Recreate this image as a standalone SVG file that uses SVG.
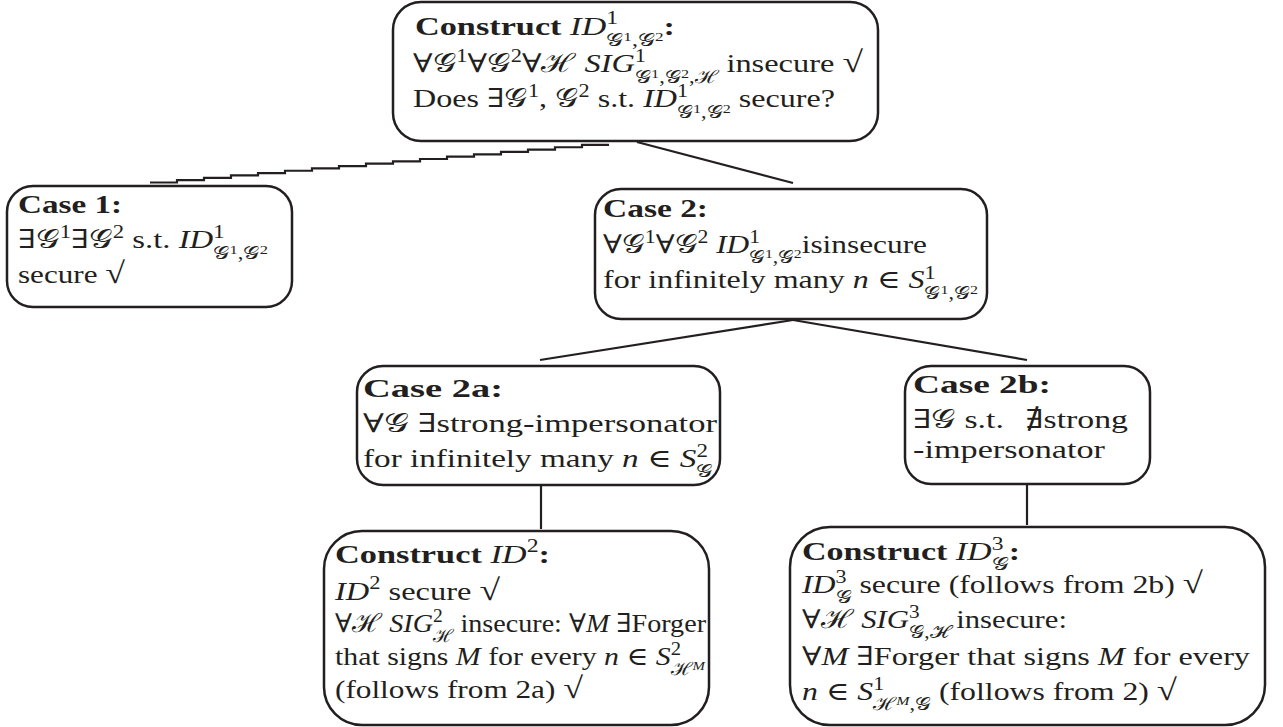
<svg xmlns="http://www.w3.org/2000/svg" width="1283" height="727" viewBox="0 0 1283 727">
<style>
.t{font-family:"Liberation Serif","DejaVu Serif",serif;font-size:26px;fill:#231f20}
.b{font-weight:bold}
.i{font-style:italic}
.s{font-size:18px}
.ss{font-size:13px}
.r{font-size:30px}
.box{fill:#fff;stroke:#231f20;stroke-width:2.5}
.ln{fill:none;stroke:#231f20;stroke-width:2.2}
</style>
<rect width="1283" height="727" fill="#fff"/>
<g id="connectors">
<path class="ln" d="M150 182.5 h27 v-2.35 h27 v-2.35 h27 v-2.35 h27 v-2.35 h27 v-2.35 h27 v-2.35 h27 v-2.35 h27 v-2.35 h27 v-2.35 h27 v-2.35 h27 v-2.35 h27 v-2.35 h27 v-2.35 h27 v-2.35 h27 v-2.35 h27 v-2.35 h27"/>
<line class="ln" x1="637" y1="142" x2="793" y2="183"/>
<line class="ln" x1="793" y1="320" x2="540" y2="360"/>
<line class="ln" x1="793" y1="320" x2="1027" y2="360"/>
<line class="ln" x1="541" y1="485" x2="541" y2="529"/>
<line class="ln" x1="1027" y1="484" x2="1027" y2="525"/>
</g>
<g id="n0">
<rect class="box" x="393" y="2" width="485" height="139" rx="28"/>
<text class="t" x="415" y="35" textLength="260" lengthAdjust="spacingAndGlyphs"><tspan class="b">Construct </tspan><tspan class="i">ID</tspan><tspan class="s" dy="-11">1</tspan><tspan class="s" dx="-9" dy="22">𝒢</tspan><tspan class="ss" dy="-5">1</tspan><tspan class="s" dy="5">,𝒢</tspan><tspan class="ss" dy="-5">2</tspan><tspan class="b" dy="-6">:</tspan></text>
<text class="t" x="413" y="72" textLength="450" lengthAdjust="spacingAndGlyphs">∀𝒢<tspan class="s" dy="-10">1</tspan><tspan dy="10">∀𝒢</tspan><tspan class="s" dy="-10">2</tspan><tspan dy="10">∀ℋ </tspan><tspan class="i">SIG</tspan><tspan class="s" dy="-10">1</tspan><tspan class="s" dx="-9" dy="21">𝒢</tspan><tspan class="ss" dy="-5">1</tspan><tspan class="s" dy="5">,𝒢</tspan><tspan class="ss" dy="-5">2</tspan><tspan class="s" dy="5">,ℋ</tspan><tspan dy="-11"> insecure </tspan><tspan class="r">√</tspan></text>
<text class="t" x="413" y="107" textLength="422" lengthAdjust="spacingAndGlyphs">Does ∃𝒢<tspan class="s" dy="-10">1</tspan><tspan dy="10">, 𝒢</tspan><tspan class="s" dy="-10">2</tspan><tspan dy="10"> s.t. </tspan><tspan class="i">ID</tspan><tspan class="s" dy="-10">1</tspan><tspan class="s" dx="-9" dy="21">𝒢</tspan><tspan class="ss" dy="-5">1</tspan><tspan class="s" dy="5">,𝒢</tspan><tspan class="ss" dy="-5">2</tspan><tspan dy="-6"> secure?</tspan></text>
</g>
<g id="n1">
<rect class="box" x="7" y="186" width="285" height="121" rx="26"/>
<text class="t b" x="18" y="213" textLength="104" lengthAdjust="spacingAndGlyphs">Case 1:</text>
<text class="t" x="18" y="248" textLength="250" lengthAdjust="spacingAndGlyphs">∃𝒢<tspan class="s" dy="-10">1</tspan><tspan dy="10">∃𝒢</tspan><tspan class="s" dy="-10">2</tspan><tspan dy="10"> s.t. </tspan><tspan class="i">ID</tspan><tspan class="s" dy="-10">1</tspan><tspan class="s" dx="-9" dy="21">𝒢</tspan><tspan class="ss" dy="-5">1</tspan><tspan class="s" dy="5">,𝒢</tspan><tspan class="ss" dy="-5">2</tspan></text>
<text class="t" x="18" y="283" textLength="107" lengthAdjust="spacingAndGlyphs">secure <tspan class="r">√</tspan></text>
</g>
<g id="n2">
<rect class="box" x="595" y="189" width="392" height="130" rx="26"/>
<text class="t b" x="603" y="217" textLength="105" lengthAdjust="spacingAndGlyphs">Case 2:</text>
<text class="t" x="603" y="253" textLength="324" lengthAdjust="spacingAndGlyphs">∀𝒢<tspan class="s" dy="-10">1</tspan><tspan dy="10">∀𝒢</tspan><tspan class="s" dy="-10">2</tspan><tspan dy="10"> </tspan><tspan class="i">ID</tspan><tspan class="s" dy="-10">1</tspan><tspan class="s" dx="-9" dy="20">𝒢</tspan><tspan class="ss" dy="-5">1</tspan><tspan class="s" dy="5">,𝒢</tspan><tspan class="ss" dy="-5">2</tspan><tspan dy="-5">isinsecure</tspan></text>
<text class="t" x="603" y="288" textLength="375" lengthAdjust="spacingAndGlyphs">for infinitely many <tspan class="i">n</tspan> ∈ <tspan class="i">S</tspan><tspan class="s" dy="-9">1</tspan><tspan class="s" dx="-9" dy="20">𝒢</tspan><tspan class="ss" dy="-5">1</tspan><tspan class="s" dy="5">,𝒢</tspan><tspan class="ss" dy="-5">2</tspan></text>
</g>
<g id="n3">
<rect class="box" x="357" y="366" width="363" height="119" rx="26"/>
<text class="t b" x="363" y="397" textLength="140" lengthAdjust="spacingAndGlyphs">Case 2a:</text>
<text class="t" x="363" y="432" textLength="354" lengthAdjust="spacingAndGlyphs">∀𝒢 ∃strong-impersonator</text>
<text class="t" x="363" y="467" textLength="350" lengthAdjust="spacingAndGlyphs">for infinitely many <tspan class="i">n</tspan> ∈ <tspan class="i">S</tspan><tspan class="s" dy="-10">2</tspan><tspan class="s" dx="-9" dy="20">𝒢</tspan></text>
</g>
<g id="n4">
<rect class="box" x="905" y="366" width="245" height="118" rx="26"/>
<text class="t b" x="913" y="393" textLength="138" lengthAdjust="spacingAndGlyphs">Case 2b:</text>
<text class="t" x="913" y="428" textLength="215" lengthAdjust="spacingAndGlyphs">∃𝒢 s.t. <tspan dx="10">∄strong</tspan></text>
<text class="t" x="913" y="458" textLength="192" lengthAdjust="spacingAndGlyphs">-impersonator</text>
</g>
<g id="n5">
<rect class="box" x="324" y="531" width="385" height="194" rx="38"/>
<text class="t" x="335" y="563" textLength="215" lengthAdjust="spacingAndGlyphs"><tspan class="b">Construct </tspan><tspan class="i">ID</tspan><tspan class="s" dy="-11">2</tspan><tspan class="b" dy="11">:</tspan></text>
<text class="t" x="335" y="600" textLength="165" lengthAdjust="spacingAndGlyphs"><tspan class="i">ID</tspan><tspan class="s" dy="-11">2</tspan><tspan dy="11"> secure </tspan><tspan class="r">√</tspan></text>
<text class="t" x="335" y="632" textLength="371" lengthAdjust="spacingAndGlyphs">∀ℋ <tspan class="i">SIG</tspan><tspan class="s" dy="-10">2</tspan><tspan class="s" dx="-9" dy="20">ℋ</tspan><tspan dy="-10"> insecure: ∀</tspan><tspan class="i">M</tspan> ∃Forger</text>
<text class="t" x="335" y="665" textLength="370" lengthAdjust="spacingAndGlyphs">that signs <tspan class="i">M</tspan> for every <tspan class="i">n</tspan> ∈ <tspan class="i">S</tspan><tspan class="s" dy="-10">2</tspan><tspan class="s" dx="-9" dy="20">ℋ</tspan><tspan class="ss i" dy="-5">M</tspan></text>
<text class="t" x="335" y="698" textLength="248" lengthAdjust="spacingAndGlyphs">(follows from 2a) <tspan class="r">√</tspan></text>
</g>
<g id="n6">
<rect class="box" x="790" y="527" width="475" height="198" rx="40"/>
<text class="t" x="802" y="560" textLength="218" lengthAdjust="spacingAndGlyphs"><tspan class="b">Construct </tspan><tspan class="i">ID</tspan><tspan class="s" dy="-10">3</tspan><tspan class="s" dx="-9" dy="20">𝒢</tspan><tspan class="b" dy="-10">:</tspan></text>
<text class="t" x="802" y="593" textLength="401" lengthAdjust="spacingAndGlyphs"><tspan class="i">ID</tspan><tspan class="s" dy="-10">3</tspan><tspan class="s" dx="-9" dy="20">𝒢</tspan><tspan dy="-10"> secure (follows from 2b) </tspan><tspan class="r">√</tspan></text>
<text class="t" x="802" y="628" textLength="265" lengthAdjust="spacingAndGlyphs">∀ℋ <tspan class="i">SIG</tspan><tspan class="s" dy="-10">3</tspan><tspan class="s" dx="-9" dy="20">𝒢,ℋ</tspan><tspan dy="-10"> insecure:</tspan></text>
<text class="t" x="802" y="665" textLength="448" lengthAdjust="spacingAndGlyphs">∀<tspan class="i">M</tspan> ∃Forger that signs <tspan class="i">M</tspan> for every</text>
<text class="t" x="802" y="700" textLength="375" lengthAdjust="spacingAndGlyphs"><tspan class="i">n</tspan> ∈ <tspan class="i">S</tspan><tspan class="s" dy="-10">1</tspan><tspan class="s" dx="-9" dy="20">ℋ</tspan><tspan class="ss i" dy="-5">M</tspan><tspan class="s" dy="5">,𝒢</tspan><tspan dy="-10"> (follows from 2) </tspan><tspan class="r">√</tspan></text>
</g>
</svg>
